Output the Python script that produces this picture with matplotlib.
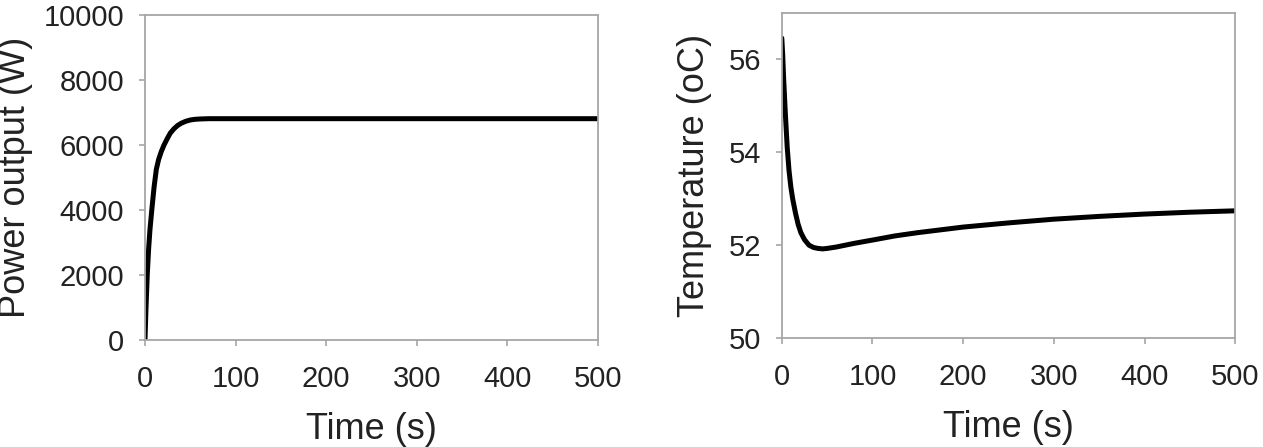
import matplotlib
matplotlib.use("Agg")
import matplotlib.pyplot as plt

plt.rcParams['font.family'] = ['Liberation Sans', 'DejaVu Sans']

# power output (W) vs time (s)
t_power = [0, 1, 2.5, 4, 5.5, 7.5, 10, 12.5, 15, 18, 21, 25, 28, 32, 36, 40, 45, 50, 55, 60, 70, 80, 100,
           200, 300, 400, 500]
power = [0, 900, 2000, 2800, 3400, 4000, 4700, 5250, 5550, 5800, 6000, 6220, 6370, 6500, 6600, 6670, 6730,
         6770, 6790, 6800, 6810, 6810, 6810, 6810, 6810, 6810, 6810]

# temperature (oC) vs time (s)
t_temp = [0, 1, 2, 3, 4, 6, 8, 10, 12, 15, 18, 21, 25, 30, 35, 40, 45, 50, 60, 70, 80, 100, 125, 150, 175,
          200, 250, 300, 350, 400, 450, 500]
temp = [56.46, 56.1, 55.6, 55.2, 54.8, 54.1, 53.6, 53.25, 53.0, 52.7, 52.45, 52.27, 52.12, 52.0, 51.95,
        51.93, 51.92, 51.93, 51.96, 52.0, 52.04, 52.11, 52.2, 52.27, 52.33, 52.39, 52.48, 52.56, 52.62,
        52.67, 52.71, 52.74]

fig = plt.figure(figsize=(12.63, 4.47), dpi=100)
ax1 = fig.add_axes([0.1148, 0.2394, 0.3587, 0.727])
ax2 = fig.add_axes([0.619, 0.2438, 0.359, 0.727])

ax1.plot(t_power, power, color='black', lw=3.6, solid_capstyle='round')
ax1.set_xlim(0, 500)
ax1.set_ylim(0, 10000)
ax1.set_yticks([0, 2000, 4000, 6000, 8000, 10000])
ax1.set_ylabel("Power output (W)", fontsize=26, color='#222222')
ax1.yaxis.set_label_coords(-0.248, 0.5)

ax2.plot(t_temp, temp, color='black', lw=3.6, solid_capstyle='round')
ax2.set_xlim(0, 500)
ax2.set_ylim(50, 57)
ax2.set_yticks([50, 52, 54, 56])
ax2.set_ylabel("Temperature (oC)", fontsize=26, color='#222222')
ax2.yaxis.set_label_coords(-0.155, 0.5)

for ax in (ax1, ax2):
    ax.set_xticks([0, 100, 200, 300, 400, 500])
    ax.set_xlabel("Time (s)", fontsize=26, color='#222222')
    ax.xaxis.set_label_coords(0.5, -0.222)
    ax.xaxis.label.set_va('top')
    for s in ax.spines.values():
        s.set_color('#a6a6a6')
        s.set_linewidth(1.3)
    ax.tick_params(direction='out', length=4, width=1.2, color='#a6a6a6',
                   labelsize=21, labelcolor='#222222', pad=11)
    ax.tick_params(axis='x', pad=14)

fig.savefig("out.png", dpi=100)
